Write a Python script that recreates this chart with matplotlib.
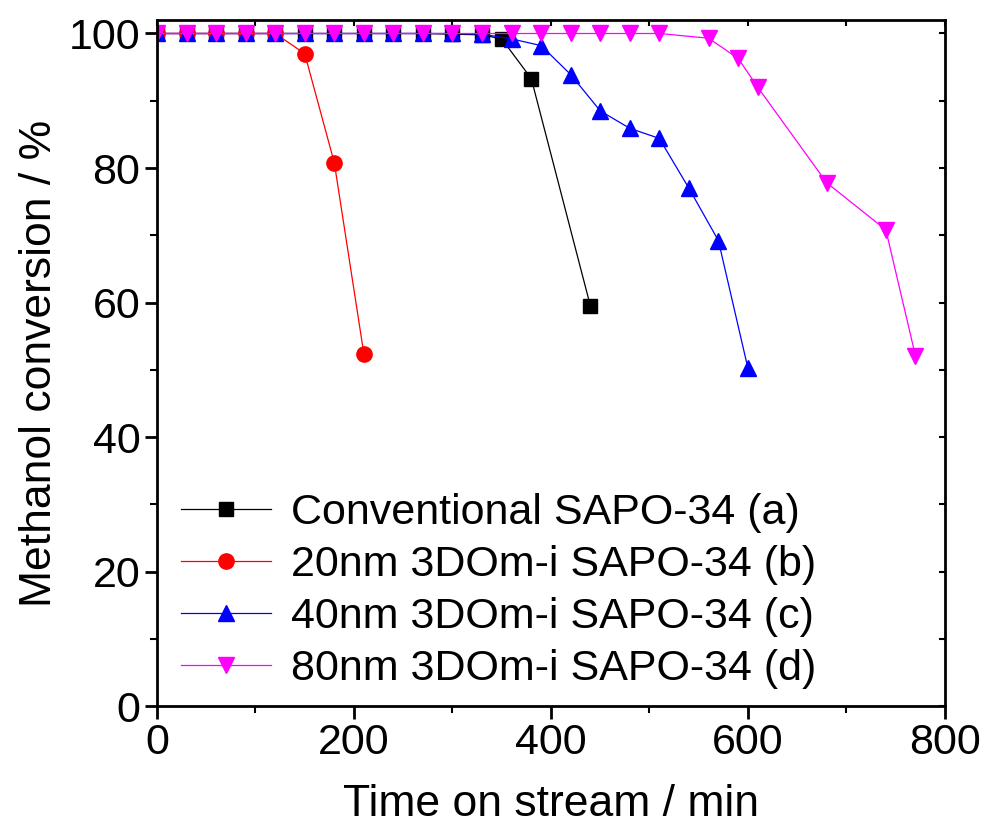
import numpy as np
import matplotlib
matplotlib.use("Agg")
import matplotlib.pyplot as plt
from matplotlib.ticker import MultipleLocator

plt.rcParams['font.family'] = ['Liberation Sans', 'DejaVu Sans']

# -- data
t_a = [0, 30, 60, 90, 120, 150, 180, 210, 240, 270, 300, 330, 350, 380, 440]
c_a = [100, 100, 100, 100, 100, 100, 100, 100, 100, 100, 99.9, 99.8, 99.2, 93.3, 59.5]

t_b = [0, 30, 60, 90, 120, 150, 180, 210]
c_b = [100, 100, 100, 100, 100, 97.0, 80.8, 52.4]

t_c = [0, 30, 60, 90, 120, 150, 180, 210, 240, 270, 300, 330, 360, 390, 420, 450, 480, 510, 540, 570, 600]
c_c = [100, 100, 100, 100, 100, 100, 100, 100, 100, 100, 100, 99.9, 99.2, 98.2, 93.9, 88.5, 85.9, 84.4, 77.0, 69.2, 50.2]

t_d = [0, 30, 60, 90, 120, 150, 180, 210, 240, 270, 300, 330, 360, 390, 420, 450, 480, 510, 560, 590, 610, 680, 740, 770]
c_d = [100, 100, 100, 100, 100, 100, 100, 100, 100, 100, 100, 100, 100, 100, 100, 100, 100, 100, 99.3, 96.3, 92.0, 77.8, 70.8, 52.1]

labels = ["Conventional SAPO-34 (a)", "20nm 3DOm-i SAPO-34 (b)",
          "40nm 3DOm-i SAPO-34 (c)", "80nm 3DOm-i SAPO-34 (d)"]

fig = plt.figure(figsize=(9.83, 8.25), dpi=100)
ax = fig.add_axes([0.1597, 0.1442, 0.8016, 0.8315])

ax.plot(t_a, c_a, color="black", marker="s", ms=9.5, lw=0.9, label=labels[0])
ax.plot(t_b, c_b, color="red", marker="o", ms=11, lw=0.9, label=labels[1])
ax.plot(t_c, c_c, color="blue", marker="^", ms=12, lw=0.9, label=labels[2])
ax.plot(t_d, c_d, color="magenta", marker="v", ms=12, lw=0.9, label=labels[3])

ax.set_xlim(0, 800)
ax.set_ylim(0, 102)
ax.xaxis.set_major_locator(MultipleLocator(200))
ax.xaxis.set_minor_locator(MultipleLocator(100))
ax.yaxis.set_major_locator(MultipleLocator(20))
ax.yaxis.set_minor_locator(MultipleLocator(10))

for s in ax.spines.values():
    s.set_linewidth(2)
ax.tick_params(which="major", direction="out", length=9, width=2, labelsize=31)
ax.tick_params(which="minor", direction="out", length=5, width=1.5)
ax.tick_params(axis="x", pad=3)
ax.tick_params(axis="y", pad=3)

# inward ticks on top and right
top = ax.secondary_xaxis("top")
top.xaxis.set_major_locator(MultipleLocator(200))
top.xaxis.set_minor_locator(MultipleLocator(100))
top.tick_params(which="both", direction="in", labeltop=False, length=4, width=1.5)
right = ax.secondary_yaxis("right")
right.yaxis.set_major_locator(MultipleLocator(20))
right.yaxis.set_minor_locator(MultipleLocator(10))
right.tick_params(which="both", direction="in", labelright=False, length=4, width=1.5)

ax.set_xlabel("Time on stream / min", fontsize=32, labelpad=15)
ax.set_ylabel("Methanol conversion / %", fontsize=32, labelpad=6)

ax.legend(loc="lower left", bbox_to_anchor=(0.008, 0.0), frameon=False, fontsize=31,
          handlelength=2.1, handletextpad=0.47, labelspacing=0.28, borderaxespad=0)

fig.savefig("out.png", dpi=100)
